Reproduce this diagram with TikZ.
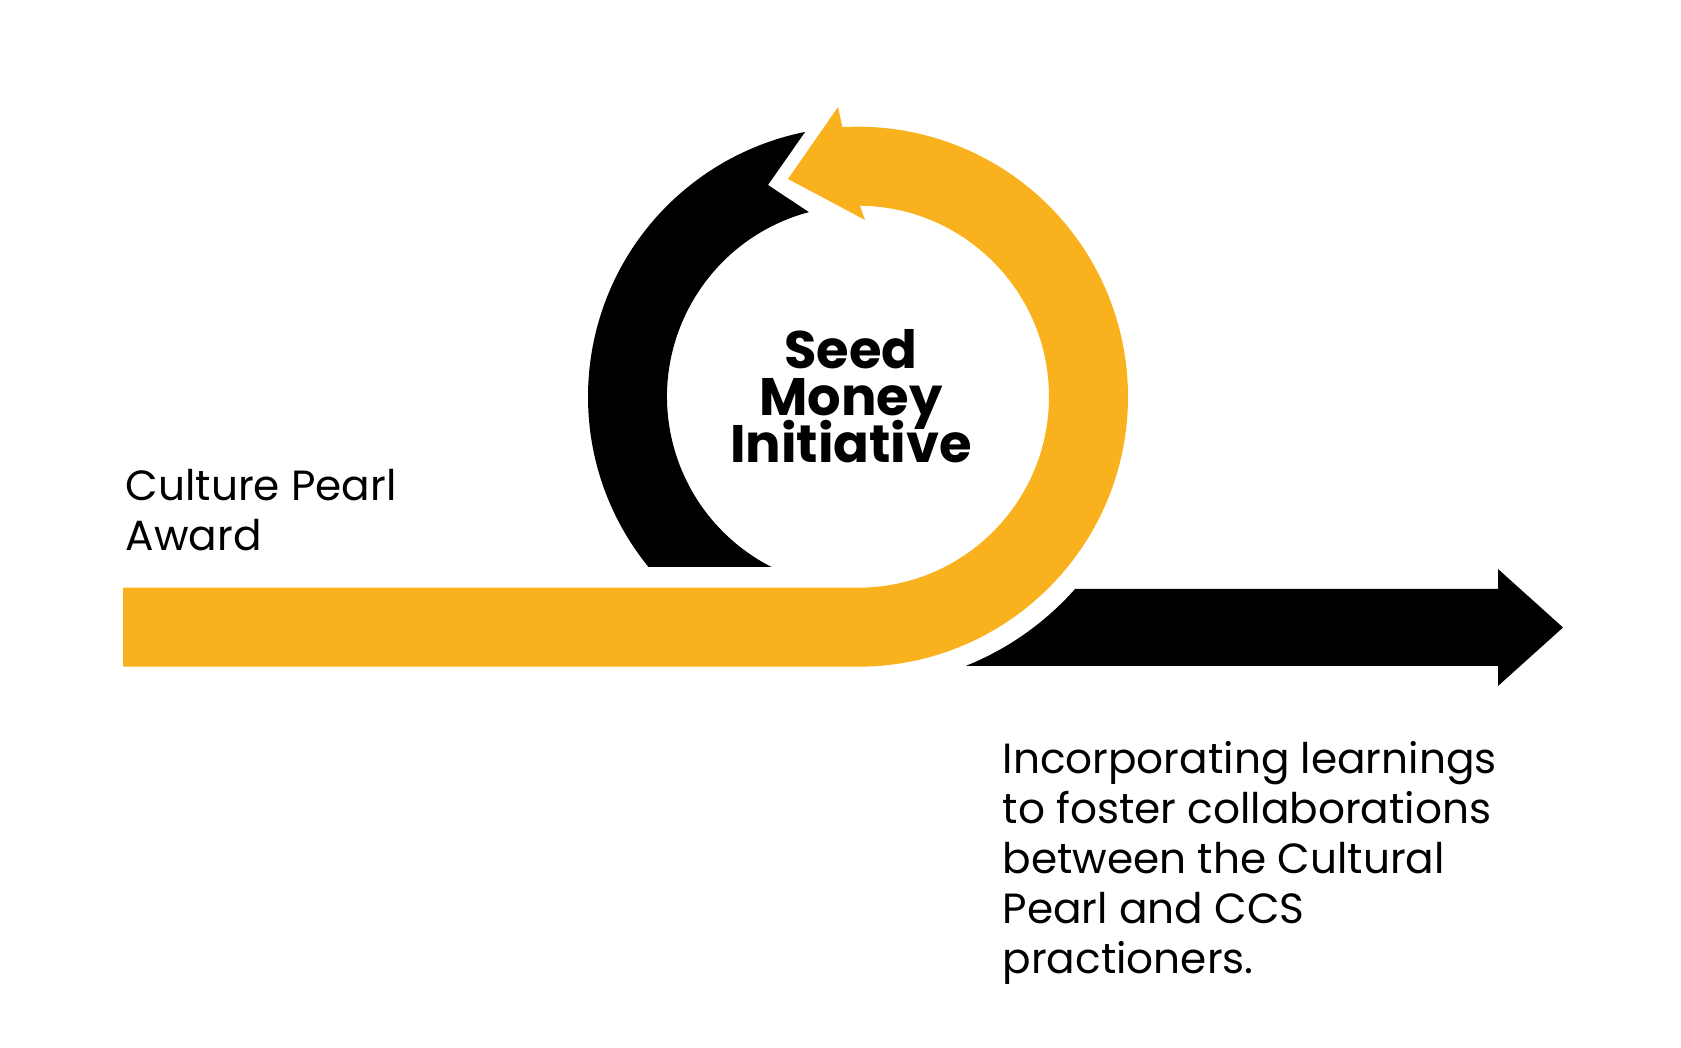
\documentclass[tikz,border=0pt]{standalone}
\usepackage{fontspec}
\setmainfont{Poppins}
\usetikzlibrary{calc}
\definecolor{pearlyellow}{RGB}{249,178,29}

\begin{document}
\begin{tikzpicture}[x=0.01cm,y=0.01cm,
  plaintext/.style={inner sep=0pt, align=left, font=\fontsize{12}{14.2}\selectfont},
  titletext/.style={inner sep=0pt, align=center, font=\setlength{\lineskiplimit}{-20pt}\fontsize{15}{13.3}\selectfont\bfseries}]
\useasboundingbox (0,0) rectangle (1681,1048);
\coordinate (C) at (858,651.3);
\fill[pearlyellow] (123,381.3) -- ($(C)+(-90:270)$) arc[start angle=-90, end angle=93.3, radius=270]
  -- (838,941) -- (788,869) -- (865,828) -- ($(C)+(89.4:191)$)
  arc[start angle=89.4, end angle=-90, radius=191] -- (123,460.3) -- cycle;
\fill[black] ($(C)+(219.1:270)$) arc[start angle=219.1, end angle=101.3, radius=270]
  -- (768,863) -- ($(C)+(104.9:191)$) arc[start angle=104.9, end angle=243.07, radius=191] -- cycle;
\fill[black] ($(C)+(-68.2:290)$) arc[start angle=-68.2, end angle=-41.5, radius=290]
  -- (1498,459) -- (1498,479) -- (1563,420.5) -- (1498,362) -- (1498,382) -- cycle;
\node[titletext] (seed) at (851,652) {Seed\\Money\\Initiative};
\node[plaintext, anchor=north west] (award) at (125,579) {Culture Pearl\\Award};
\node[plaintext, anchor=north west] (learn) at (1002,307) {Incorporating learnings\\to foster collaborations\\between the Cultural\\Pearl and CCS\\practioners.};
\end{tikzpicture}
\end{document}
